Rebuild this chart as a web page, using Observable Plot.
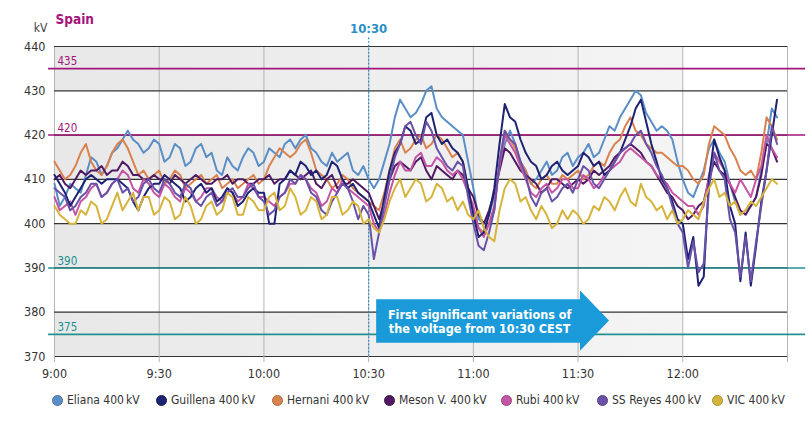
<!DOCTYPE html>
<html><head><meta charset="utf-8">
<script src="https://cdn.jsdelivr.net/npm/d3@7"></script>
<script src="https://cdn.jsdelivr.net/npm/@observablehq/plot@0.6"></script>
<style>
body{margin:0;background:#fff;font-family:"DejaVu Sans Condensed",sans-serif;}
#wrap{position:relative;width:808px;height:421px;overflow:hidden;}
.leg{position:absolute;top:393px;display:flex;align-items:center;font-size:12px;color:#333;white-space:nowrap;}
.leg i{display:inline-block;width:11px;height:11px;border-radius:50%;margin-right:4px;box-sizing:border-box;}
</style></head><body><div id="wrap"></div>
<script>
// minutes after 9:00
const times = [0,1.5,3,4.5,6,7.5,9,10.5,12,13.5,15,16.5,18,19.5,21,22.5,24,25.5,27,28.5,
 30,31.5,33,34.5,36,37.5,39,40.5,42,43.5,45,46.5,48,49.5,51,52.5,54,55.5,57,58.5,
 60,61.5,63,64.5,66,67.5,69,70.5,72,73.5,75,76.5,78,79.5,81,82.5,84,85.5,87,88.5,
 90,91.5,93,94.5,96,97.5,99,100.5,102,103.5,105,106.5,108,109.5,111,112.5,114,115.5,117,118.5,
 120,121.5,123,124.5,126,127.5,129,130.5,132,133.5,135,136.5,138,139.5,141,142.5,144,145.5,147,148.5,
 150,151.5,153,154.5,156,157.5,159,160.5,162,163.5,165,166.5,168,169.5,171,172.5,174,175.5,177,178.5,
 180,181.5,183,184.5,186,187.5,189,190.5,192,193.5,195,196.5,198,199.5,201,202.5,204,205.5,207];

const eliana = [409,404,406,409,408,407,411,415,414,411,413,416,417,419,421,419,418,416,417,419,
 418,414,415,418,417,413,414,417,418,415,416,412,411,415,413,412,415,417,416,413,
 414,417,416,415,418,419,417,419,420,417,416,414,413,416,414,415,416,412,411,413,
 410,408,410,414,418,424,428,426,424,425,427,430,431,426,424,423,422,421,420,414,
 408,401,400,402,406,413,418,421,418,414,412,409,410,412,414,411,412,415,416,413,
 415,416,418,415,416,419,422,421,424,426,428,430,429,425,423,421,422,421,419,414,
 410,407,406,409,412,417,419,416,414,409,405,402,403,404,406,412,418,426,424];
const guillena = [411,409,407,404,406,408,410,411,410,409,410,410,410,409,408,405,403,406,408,409,
 409,411,410,409,408,405,406,408,409,407,408,405,406,408,407,404,405,407,408,407,
 407,400,400,409,410,412,411,414,413,411,412,410,411,414,413,410,408,409,407,406,
 405,402,399,406,412,416,418,422,421,418,419,424,425,420,418,419,417,416,414,408,
 402,397,398,402,408,418,427,424,423,419,416,414,413,410,411,413,414,412,411,412,
 413,416,415,413,414,411,412,414,416,419,422,426,428,423,418,414,410,408,405,401,
 400,392,397,386,388,410,419,415,412,404,400,387,398,386,395,405,412,420,428];
const hernani = [414,412,410,411,413,416,418,414,412,411,413,416,418,419,417,414,411,412,410,411,
 412,409,410,412,411,408,409,410,411,409,410,411,408,409,410,408,409,410,411,409,
 410,413,415,417,416,415,416,418,419,416,412,411,410,408,409,411,410,408,407,406,
 405,404,403,407,412,417,419,416,417,419,420,417,418,420,419,417,415,416,414,408,
 402,399,398,400,403,414,421,419,417,414,412,409,408,410,411,409,409,411,410,411,
 412,410,411,413,414,413,416,418,419,422,424,421,420,418,417,416,416,415,414,413,
 413,412,410,409,411,418,422,421,420,417,415,412,411,412,410,416,424,422,419];
const meson = [410,411,409,408,410,412,411,412,412,413,411,412,412,414,413,411,411,410,410,411,
 410,410,409,411,410,409,410,411,410,409,409,410,410,411,409,410,410,409,409,410,
 410,411,409,410,410,412,411,410,411,412,409,408,410,411,408,409,409,410,409,408,
 407,404,401,405,410,413,414,413,412,414,415,412,410,413,412,411,410,412,411,408,
 406,402,400,403,407,412,417,416,414,412,411,410,409,407,408,410,410,409,408,409,
 410,409,410,412,411,412,413,415,416,417,418,417,416,414,413,411,409,407,406,404,
 403,401,402,404,405,410,414,412,411,409,406,403,402,404,406,411,418,417,414];
const rubi = [406,403,404,405,402,405,406,408,409,406,407,409,410,412,411,408,407,410,409,407,
 406,409,408,406,405,408,407,405,406,408,408,406,405,408,407,405,406,409,408,406,
 406,405,404,406,407,409,409,411,410,408,407,404,405,408,407,410,408,407,406,405,
 404,400,398,402,407,411,414,412,412,415,416,413,413,415,414,412,411,412,410,407,
 404,399,397,400,404,413,420,418,416,413,410,407,406,408,409,407,408,410,410,408,
 408,411,410,408,409,411,412,413,414,416,417,416,415,414,413,411,410,409,407,406,
 405,404,404,402,404,411,416,414,412,409,407,410,408,406,410,413,420,417,415];
const ssreyes = [408,407,406,403,404,406,407,409,409,406,407,409,410,407,408,405,406,409,410,408,
 407,410,409,407,406,409,408,405,404,406,407,404,405,407,408,406,406,408,409,406,
 405,402,403,406,407,410,409,411,410,407,406,403,402,405,407,409,408,405,401,404,
 402,392,398,404,410,415,418,422,423,420,418,423,421,417,415,413,412,414,413,406,
 400,395,394,398,403,414,421,419,418,414,411,406,404,407,408,405,406,408,409,407,
 410,413,412,409,408,410,412,414,416,417,418,420,421,418,416,413,411,408,404,400,
 398,390,396,389,391,408,416,412,410,401,398,388,397,387,396,404,412,422,418];
const vic = [404,402,401,400,400,403,402,405,404,400,401,404,407,403,405,407,403,406,406,402,
 403,406,405,401,402,406,404,400,401,404,405,402,403,407,406,402,402,406,405,403,
 403,406,407,403,404,408,406,402,403,406,405,401,402,406,406,402,403,405,404,400,
 401,399,398,401,405,408,410,406,408,410,409,405,406,409,408,405,406,403,405,402,
 401,403,399,397,396,403,408,410,409,405,406,403,401,404,402,399,400,403,401,403,
 402,400,401,404,403,406,405,403,406,408,405,404,409,406,405,403,404,401,403,400,
 401,403,402,401,405,408,410,406,407,404,405,402,403,405,404,406,408,410,409];

const seriesNames = ["Eliana 400\u2009kV","Guillena 400\u2009kV","Hernani 400\u2009kV","Meson V. 400\u2009kV","Rubi 400\u2009kV","SS Reyes 400\u2009kV","VIC 400\u2009kV"];
const seriesColors = ["#5a8ec6","#1d2272","#d9824f","#4f1a63","#c355a4","#6a51a8","#d6b43c"];
const seriesValues = [eliana, guillena, hernani, meson, rubi, ssreyes, vic];
const drawOrder = [0,2,3,4,1,5,6];

const xTicks = [0,30,60,90,120,150,180,210];
const xLabels = ["9:00","9:30","10:00","10:30","11:00","11:30","12:00",""];
const yTicks = [370,380,390,400,410,420,430,440];
const bandLow = [430,410,390,370];
const bandHigh = [440,420,400,380];
const bandSpan = [0,180];
const upperLimits = [435,420];
const lowerLimits = [390,375];
const marker = 90;
const arrowX = [92.3,150.7,150.7,159.0];
const arrowLow = [373.0,373.0,371.2,378.0];
const arrowHigh = [382.8,382.8,384.8,378.0];
const arrowText = "First significant variations of\nthe voltage from 10:30 CEST";

const rows = [];
for (const k of drawOrder) {
  seriesValues[k].forEach((v, i) => rows.push({t: times[i], v, s: seriesNames[k]}));
}
const bandRows = [];
bandLow.forEach((lo, b) => bandSpan.forEach(x => bandRows.push({b, x, lo, hi: bandHigh[b]})));
const arrow = arrowX.map((x, i) => ({x, lo: arrowLow[i], hi: arrowHigh[i]}));

const FONT = '"DejaVu Sans Condensed",sans-serif';
const MAG = "#a3157a", TEAL = "#22908f", BLUE = "#2a8ec6";

const chart = Plot.plot({
  width: 808, height: 388,
  marginLeft: 54, marginRight: 21, marginTop: 46, marginBottom: 32,
  x: {domain: [0, 210]},
  y: {domain: [370, 440]},
  color: {domain: seriesNames, range: seriesColors},
  style: {fontFamily: FONT, fontSize: "12px", background: "white", overflow: "visible", color: "#333"},
  marks: [
    Plot.areaY(bandRows, {x: "x", y1: "lo", y2: "hi", z: "b", fill: "url(#bandgrad)", curve: "linear"}),
    Plot.ruleX(xTicks, {y1: 370, y2: 440, stroke: "#b4b4b4", strokeWidth: 1}),
    Plot.ruleY(yTicks, {x1: 0, x2: 210, stroke: "#333", strokeWidth: 1.2}),
    Plot.ruleY(upperLimits, {x1: -1.7, x2: 215.2, stroke: MAG, strokeWidth: 1.6}),
    Plot.ruleY(lowerLimits, {x1: -1.7, x2: 215.2, stroke: TEAL, strokeWidth: 1.6}),
    Plot.text(upperLimits, {x: 0, y: d => d, text: d => String(d), dx: 3, dy: -7, textAnchor: "start", fill: MAG, fontSize: 11.5}),
    Plot.text(lowerLimits, {x: 0, y: d => d, text: d => String(d), dx: 3, dy: -7, textAnchor: "start", fill: TEAL, fontSize: 11.5}),
    Plot.ruleX([marker], {y1: 370, y2: 442, stroke: BLUE, strokeWidth: 1.3, strokeDasharray: "1.6,2"}),
    Plot.line(rows, {x: "t", y: "v", z: "s", stroke: "s", strokeWidth: 2, strokeLinejoin: "round"}),
    Plot.areaY(arrow, {x: "x", y1: "lo", y2: "hi", fill: "#1a9ad8", curve: "linear"}),
    Plot.text([arrowText], {x: 121.8, y: 377.9, text: d => d, fill: "white", fontWeight: "bold", fontSize: 12.5, lineHeight: 1.15}),
    Plot.axisY({ticks: yTicks, tickSize: 0, tickPadding: 9, fontSize: 12.5}),
    Plot.axisX({ticks: xTicks, tickFormat: d => xLabels[xTicks.indexOf(d)], tickSize: 6, tickPadding: 7, stroke: "#b4b4b4", fontSize: 12.5}),
    Plot.text(["10:30"], {x: marker, y: 440, dy: -18, text: d => d, fill: BLUE, fontWeight: "bold", fontSize: 13}),
    Plot.text(["Spain"], {x: 0, y: 440, dx: 1, dy: -27, textAnchor: "start", text: d => d, fill: MAG, fontWeight: "bold", fontSize: 13.5}),
    Plot.text(["kV"], {x: 0, y: 440, dx: -7, dy: -18, textAnchor: "end", text: d => d, fill: "#444", fontSize: 12})
  ]
});

// horizontal fade for the alternating bands
const svgNS = "http://www.w3.org/2000/svg";
const defs = document.createElementNS(svgNS, "defs");
defs.innerHTML = '<linearGradient id="bandgrad" x1="0" x2="1" y1="0" y2="0"><stop offset="0" stop-color="#e8e8e8"/><stop offset="1" stop-color="#f4f4f4"/></linearGradient>';
chart.insertBefore(defs, chart.firstChild);

const wrap = document.getElementById("wrap");
wrap.appendChild(chart);

const legendX = [52, 156, 272, 384, 501, 597, 712];
seriesNames.forEach((n, k) => {
  const el = document.createElement("div");
  el.className = "leg";
  el.style.left = legendX[k] + "px";
  const c = d3.color(seriesColors[k]).darker(0.6);
  el.innerHTML = `<i style="background:${seriesColors[k]};border:1px solid ${c}"></i>${n}`;
  wrap.appendChild(el);
});
</script>
</body></html>
